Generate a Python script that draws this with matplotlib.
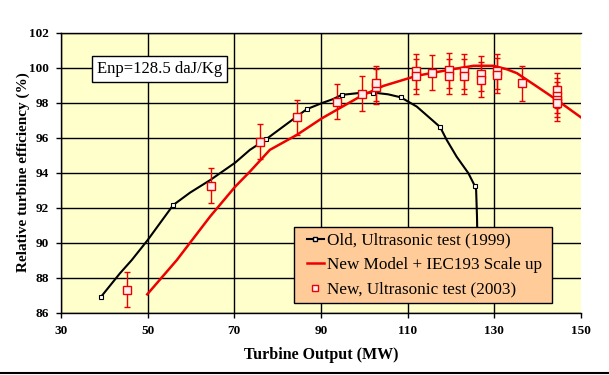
"""Relative turbine efficiency vs output: old/new runner comparison."""

import matplotlib

matplotlib.use("Agg")
import matplotlib.pyplot as plt
from matplotlib.lines import Line2D
from matplotlib.patches import Rectangle

# Old runner, ultrasonic test (1999)
old_x = [39.2, 43.6, 46.3, 50.0, 52.8, 55.9, 59.8, 64.4, 70.2, 73.6, 77.3, 84.4,
         86.7, 90.2, 92.8, 94.8, 99.0, 102.1, 105.5, 108.4, 112.1, 115.2, 117.5,
         119.0, 121.3, 124.0, 125.5, 125.8, 126.0, 126.1]
old_y = [86.9, 88.25, 89.0, 90.15, 91.1, 92.15, 92.86, 93.57, 94.57, 95.3, 95.9, 97.2,
         97.62, 97.97, 98.2, 98.44, 98.55, 98.57, 98.47, 98.3, 97.77, 97.1, 96.6,
         95.87, 94.91, 93.97, 93.24, 93.0, 91.5, 90.0]
old_marked = [0, 5, 10, 12, 15, 17, 19, 22, 26]

# New model + IEC193 scale up
model_x = [49.9, 56.7, 64.4, 70.2, 73.6, 78.2, 84.4, 90.2, 93.6, 99.0, 104.4, 112.1,
           119.8, 125.2, 129.8, 132.9, 135.2, 139.8, 144.4, 150.3]
model_y = [87.05, 89.0, 91.49, 93.2, 94.06, 95.3, 96.15, 97.1, 97.58, 98.34, 98.95, 99.53,
           99.88, 100.1, 100.1, 99.9, 99.68, 98.92, 98.15, 97.1]

# New runner, ultrasonic test (2003)
test_x = [45.2, 64.5, 75.9, 84.4, 93.6, 99.5, 102.7, 102.7, 111.9, 111.9, 115.7, 119.5,
          119.5, 123.1, 123.1, 126.9, 126.9, 130.6, 130.6, 136.3, 144.4, 144.4, 144.4, 144.4]
test_y = [87.3, 93.25, 95.75, 97.15, 98.05, 98.5, 98.9, 99.1, 99.8, 99.5, 99.7, 99.85,
          99.5, 99.8, 99.5, 99.65, 99.3, 99.8, 99.55, 99.1, 98.7, 98.4, 98.15, 97.95]
test_err = [1.0] * len(test_x)

x_ticks = [30, 50, 70, 90, 110, 130, 150]
y_ticks = [86, 88, 90, 92, 94, 96, 98, 100, 102]

SERIF = "Liberation Serif"
RED = "#ee0000"

fig = plt.figure(figsize=(6.09, 3.75), dpi=100)
ax = fig.add_axes([0.1002, 0.1661, 0.8538, 0.7472])
ax.set_facecolor("#ffffcc")

ax.plot(old_x, old_y, color="black", linewidth=1.5, marker="s", markersize=3,
        markerfacecolor="white", markeredgecolor="black", markeredgewidth=0.8,
        markevery=old_marked, zorder=3)
ax.plot(model_x, model_y, color=RED, linewidth=1.8, zorder=3)
ax.errorbar(test_x, test_y, yerr=test_err, fmt="s", markersize=5.5,
            markerfacecolor="#fff0f0", markeredgecolor=RED, markeredgewidth=1.0,
            ecolor=RED, elinewidth=1.0, capsize=2.5, capthick=1.2, zorder=4)

ax.set_xlim(30, 150)
ax.set_ylim(86, 102)
ax.set_xticks(x_ticks)
ax.set_yticks(y_ticks)
ax.grid(True, color="black", linewidth=1.0)
ax.set_axisbelow(True)
ax.get_xgridlines()[-1].set_visible(False)
ax.spines["right"].set_visible(False)
for side in ("left", "bottom", "top"):
    ax.spines[side].set_linewidth(1.0)
ax.tick_params(direction="out", length=3.5, width=1.0, pad=5)
for lab in ax.get_xticklabels() + ax.get_yticklabels():
    lab.set_fontfamily(SERIF)
    lab.set_fontweight("bold")
    lab.set_fontsize(9.5)

ax.set_xlabel("Turbine Output (MW)", fontfamily=SERIF, fontweight="bold", fontsize=11.5)
ax.set_ylabel("Relative turbine efficiency (%)", fontfamily=SERIF, fontweight="bold",
              fontsize=11)
ax.xaxis.set_label_coords(0.5, -0.151)
ax.xaxis.label.set_va("center")
ax.yaxis.set_label_coords(-0.073, 0.5)
ax.yaxis.label.set_va("center")

ax.text(52.8, 99.9, "Enp=128.5 daJ/Kg", fontfamily=SERIF, fontsize=12,
        ha="center", va="center", zorder=5,
        bbox=dict(boxstyle="square,pad=0.3", facecolor="white", edgecolor="black",
                  linewidth=1.0))

# legend box drawn separately so its size matches the original
ax.add_patch(Rectangle((0.4475, 0.0357), 0.4962, 0.2693, transform=ax.transAxes,
                       facecolor="#ffcc99", edgecolor="black", linewidth=1.0,
                       zorder=5, clip_on=False))
handles = [
    Line2D([], [], color="black", linewidth=1.5, marker="s", markersize=2.5,
           markerfacecolor="white", markeredgecolor="black"),
    Line2D([], [], color=RED, linewidth=1.8),
    Line2D([], [], linestyle="none", marker="s", markersize=4.5,
           markerfacecolor="#fff0f0", markeredgecolor=RED),
]
labels = ["Old, Ultrasonic test (1999)", "New Model + IEC193 Scale up",
          "New, Ultrasonic test (2003)"]
leg = ax.legend(handles, labels, loc="center left", bbox_to_anchor=(0.4725, 0.170),
                borderaxespad=0, borderpad=0, frameon=False,
                prop={"family": SERIF, "size": 12.3},
                handlelength=1.0, handletextpad=0.2, labelspacing=0.5)
leg.set_zorder(6)

fig.add_artist(Line2D([0, 1], [0.0053, 0.0053], color="black", linewidth=1.5))

fig.savefig("out.png", dpi=100)
